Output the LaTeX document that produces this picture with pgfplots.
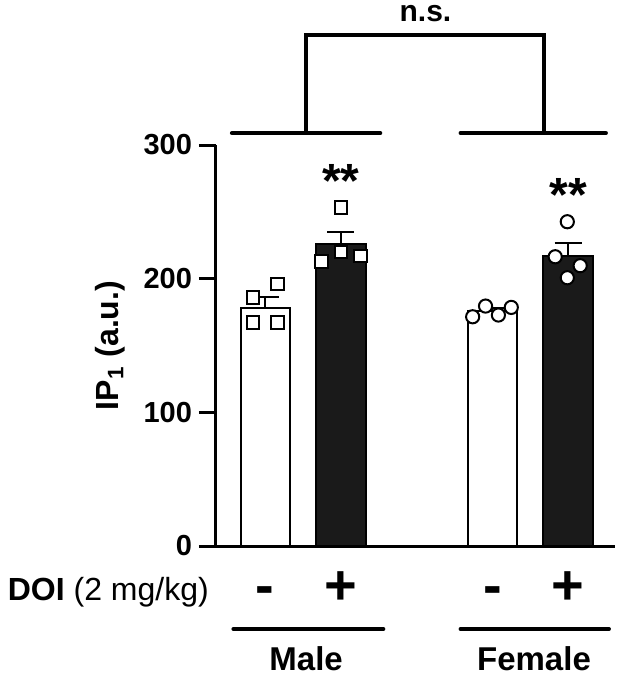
\documentclass[border=0pt]{standalone}
\usepackage{fontspec}
\setmainfont{Liberation Sans}
\usepackage{pgfplots}
\pgfplotsset{compat=1.18}
\definecolor{barblack}{HTML}{1A1A1A}
\begin{document}
\begin{tikzpicture}
\useasboundingbox (-108pt,-64.5pt) rectangle (202pt,273pt);
\begin{axis}[
  scale only axis, width=199.5pt, height=200.5pt,
  xmin=-0.65, xmax=4.62, ymin=0, ymax=300,
  axis x line*=bottom, axis y line*=left,
  xtick=\empty, ytick={0,100,200,300},
  tick align=outside, major tick length=8.5pt,
  every tick/.style={line width=1.5pt, black},
  axis line style={line width=1.5pt, black},
  yticklabel style={font=\bfseries\fontsize{14.5}{17}\selectfont},
  /pgf/number format/assume math mode=true,
  clip=false,
  ylabel={IP\textsubscript{1} (a.u.)},
  ylabel style={at={(axis description cs:-0.266,0.5)}, anchor=center, font=\bfseries\fontsize{16}{19}\selectfont},
]
% bars: vehicle (white)
\addplot[ybar, bar width=0.65, bar shift=0pt, fill=white, draw=black, line width=1pt,
  error bars/.cd, y dir=plus, y explicit,
  error bar style={line width=1pt, black},
  error mark options={rotate=90, mark size=6.75pt, line width=1pt, black}]
  coordinates {(0,178) +- (0,8) (3,175.8) +- (0,2)};
% bars: DOI (black)
\addplot[ybar, bar width=0.65, bar shift=0pt, fill=barblack, draw=black, line width=1pt,
  error bars/.cd, y dir=plus, y explicit,
  error bar style={line width=1pt, black},
  error mark options={rotate=90, mark size=6.75pt, line width=1pt, black}]
  coordinates {(1,226) +- (0,9) (4,217) +- (0,9.5)};
% individual points: male (squares)
\addplot[only marks, mark=square*, mark size=3.2pt,
  mark options={fill=white, draw=black, line width=1pt}]
  coordinates {(-0.16,186) (0.16,196) (-0.16,167) (0.16,167)
               (0.74,212.6) (1.0,220) (1.26,217) (1.0,253.5)};
% individual points: female (circles)
\addplot[only marks, mark=*, mark size=3.3pt,
  mark options={fill=white, draw=black, line width=1pt}]
  coordinates {(2.74,171.5) (2.91,179.5) (3.08,172.8) (3.25,178.5)
               (3.83,216.4) (4.16,209.7) (3.99,200.7) (3.99,242.6)};
% significance
\node[anchor=base, font=\bfseries\fontsize{24}{26}\selectfont] at (axis cs:1,260.5) {**};
\node[anchor=base, font=\bfseries\fontsize{24}{26}\selectfont] at (axis cs:4,250.5) {**};
% bracket
\draw[line width=2pt, line cap=round] (axis cs:-0.44,308.9) -- (axis cs:1.52,308.9);
\draw[line width=2pt, line cap=round] (axis cs:2.58,308.9) -- (axis cs:4.50,308.9);
\draw[line width=2pt] (axis cs:0.54,308.9) -- (axis cs:0.54,382.2) -- (axis cs:3.68,382.2) -- (axis cs:3.68,308.9);
\node[anchor=base, font=\bfseries\fontsize{15}{18}\selectfont] at (axis cs:2.116,392.7) {n.s.};
% bottom labels
\node[anchor=base west, font=\fontsize{16}{19}\selectfont] at (axis cs:-3.492,-41.1) {\textbf{DOI} (2 mg/kg)};
\node[anchor=base, font=\bfseries\fontsize{28}{30}\selectfont] at (axis cs:0,-44.1) {-};
\node[anchor=base, font=\bfseries\fontsize{28}{30}\selectfont] at (axis cs:1,-44.1) {+};
\node[anchor=base, font=\bfseries\fontsize{28}{30}\selectfont] at (axis cs:3,-44.1) {-};
\node[anchor=base, font=\bfseries\fontsize{28}{30}\selectfont] at (axis cs:4,-44.1) {+};
\draw[line width=2pt, line cap=round] (axis cs:-0.42,-62.1) -- (axis cs:1.56,-62.1);
\draw[line width=2pt, line cap=round] (axis cs:2.58,-62.1) -- (axis cs:4.54,-62.1);
\node[anchor=base, font=\bfseries\fontsize{16.5}{19}\selectfont] at (axis cs:0.54,-92.8) {Male};
\node[anchor=base, font=\bfseries\fontsize{16.5}{19}\selectfont] at (axis cs:3.55,-92.8) {Female};
\end{axis}
\end{tikzpicture}
\end{document}
